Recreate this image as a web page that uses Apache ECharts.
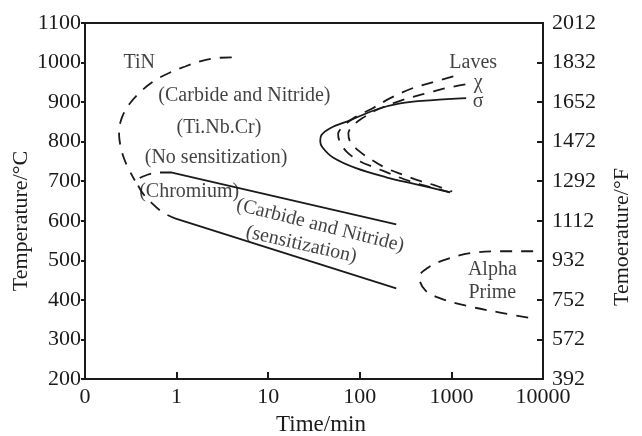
<!DOCTYPE html>
<html>
<head>
<meta charset="utf-8">
<script src="https://cdn.jsdelivr.net/npm/echarts@6/dist/echarts.min.js"></script>
<style>
  html, body { margin: 0; padding: 0; background: #fff; }
  #chart { width: 642px; height: 436px; }
</style>
</head>
<body>
<div id="chart"></div>
<script>
// Time-temperature-precipitation curves; time in minutes (log scale), temperature in °C.
const tinCurve = [[4.0,1013],[2.6,1011],[1.8,1003],[1.24,990],[0.85,975],[0.58,955],[0.42,930],[0.31,897],[0.254,862],[0.235,824],[0.247,783],[0.28,745],[0.35,702]];
const chromiumCurve = [[0.89,722],[0.66,722],[0.49,717],[0.37,700],[0.42,672],[0.54,644],[0.71,621],[0.96,606]];
const noSensitizationLine = [[0.89,722],[250,591]];
const sensitizationLine = [[0.96,606],[250,429]];
const sigmaCurve = [[1450,910],[630,905],[276,897],[155,882],[78,854],[47.5,834],[38,816],[37,801],[39,786],[51,760],[91,733],[194,710],[413,692],[970,672]];
const lavesCurve = [[1050,965],[620,950],[375,935],[215,910],[137,884],[89,862],[66,839],[58,819],[61,798],[73,773],[101,750],[144,735],[226,717],[305,705],[457,692],[970,672]];
const chiCurve = [[1420,945],[860,935],[590,925],[290,905],[159,882],[106,859],[83,839],[75,821],[78,801],[96,778],[137,753],[194,733],[305,715],[434,702],[650,690],[1020,674]];
const alphaPrimeCurve = [[7800,523],[3400,523],[1600,518],[860,502],[560,482],[445,457],[520,424],[755,404],[1530,384],[3400,368],[7800,353]];

// Region labels: [time, temperature, text]
const regionLabels = [
  [0.39, 1000, 'TiN'],
  [5.5, 915, '(Carbide and Nitride)'],
  [2.9, 836, '(Ti.Nb.Cr)'],
  [2.7, 760, '(No sensitization)'],
  [1.37, 674, '(Chromium)'],
  [37, 588, '(Carbide and Nitride)'],
  [23, 540, '(sensitization)'],
  [1730, 1000, 'Laves'],
  [1960, 949, 'χ'],
  [1960, 902, 'σ'],
  [2800, 477, 'Alpha'],
  [2800, 417, 'Prime']
];

// Axis ticks
const celsiusMin = 200, celsiusMax = 1100, celsiusStep = 100;
const fahrenheitMin = 392, fahrenheitMax = 2012, fahrenheitStep = 180;
const timeMin = 0.1, timeMax = 10000;

const ink = '#1a1a1a';
const serif = '"Liberation Serif", "DejaVu Serif", serif';

function curve(data, dashed) {
  return {
    type: 'line',
    data: data,
    smooth: 0.35,
    symbol: 'none',
    silent: true,
    lineStyle: { color: ink, width: 1.8, type: dashed ? [12, 9] : 'solid' }
  };
}

function plain(v) { return String(Math.round(v)); }

// The two labels lying between the sensitization lines follow their slope
const labelTilt = [0, 0, 0, 0, 0, -14, -13, 0, 0, 0, 0, 0];
const labelData = regionLabels.map(function (r, i) {
  const item = { value: [r[0], r[1]], name: r[2] };
  if (labelTilt[i]) item.label = { rotate: labelTilt[i] };
  return item;
});

const chart = echarts.init(document.getElementById('chart'), null, { renderer: 'canvas' });
chart.setOption({
  backgroundColor: '#fff',
  animation: false,
  textStyle: { fontFamily: serif, color: ink },
  grid: { left: 85, right: 99, top: 23, bottom: 57, show: true, borderColor: ink, borderWidth: 2, backgroundColor: 'transparent' },
  xAxis: {
    type: 'log', logBase: 10, min: timeMin, max: timeMax, splitNumber: 5,
    axisLine: { show: true, lineStyle: { color: ink, width: 2 } },
    axisTick: { show: true, inside: true, length: 7, lineStyle: { color: ink, width: 2 } },
    minorTick: { show: false },
    splitLine: { show: false },
    axisLabel: {
      margin: 7, fontSize: 22, fontFamily: serif, color: ink,
      formatter: function (v) { return v < 0.5 ? '0' : plain(v); }
    }
  },
  yAxis: [
    {
      type: 'value', min: celsiusMin, max: celsiusMax, interval: celsiusStep, position: 'left',
      axisLine: { show: true, lineStyle: { color: ink, width: 2 } },
      axisTick: { show: true, inside: false, length: 4, lineStyle: { color: ink, width: 2 } },
      splitLine: { show: false },
      axisLabel: { margin: 4, fontSize: 22, fontFamily: serif, color: ink, formatter: plain }
    },
    {
      type: 'value', min: fahrenheitMin, max: fahrenheitMax, interval: fahrenheitStep, position: 'right',
      axisLine: { show: true, lineStyle: { color: ink, width: 2 } },
      axisTick: { show: true, inside: true, length: 6, lineStyle: { color: ink, width: 2 } },
      splitLine: { show: false },
      axisLabel: { margin: 9, fontSize: 22, fontFamily: serif, color: ink, formatter: plain }
    }
  ],
  graphic: [
    { type: 'text', x: 21, y: 221, rotation: Math.PI / 2,
      style: { text: 'Temperature/°C', font: '22px ' + serif, fill: ink, textAlign: 'center', textVerticalAlign: 'middle' } },
    { type: 'text', x: 622, y: 237, rotation: Math.PI / 2,
      style: { text: 'Temoerature/°F', font: '22px ' + serif, fill: ink, textAlign: 'center', textVerticalAlign: 'middle' } },
    { type: 'text', x: 321, y: 425,
      style: { text: 'Time/min', font: '23px ' + serif, fill: ink, textAlign: 'center', textVerticalAlign: 'middle' } }
  ],
  series: [
    curve(tinCurve, true),
    curve(chromiumCurve, true),
    curve(noSensitizationLine, false),
    curve(sensitizationLine, false),
    curve(sigmaCurve, false),
    curve(lavesCurve, true),
    curve(chiCurve, true),
    curve(alphaPrimeCurve, true),
    {
      type: 'scatter',
      data: labelData,
      symbolSize: 0,
      silent: true,
      label: {
        show: true, position: 'inside', fontSize: 20, fontFamily: serif, color: '#111',
        formatter: function (p) { return p.name; }
      }
    }
  ]
});
</script>
</body>
</html>
